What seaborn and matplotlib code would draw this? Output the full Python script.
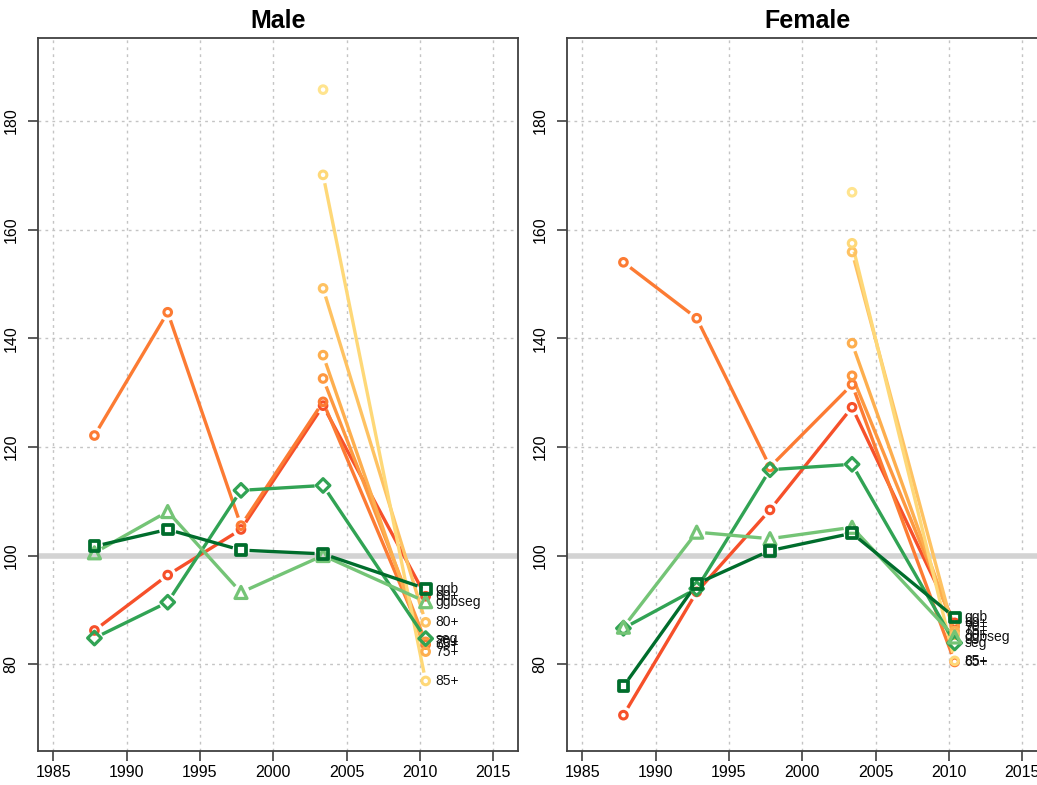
import numpy as np
import pandas as pd
import matplotlib
matplotlib.use("Agg")
import matplotlib.pyplot as plt
import seaborn as sns

nan = np.nan

# survey period mid-points
years = [1987.8, 1992.8, 1997.8, 2003.4, 2010.4]

# index values (100 = reference), male
male_60 = [86.2, 96.4, 104.8, 127.6, 92.5]
male_65 = [122.1, 144.8, 105.5, 128.3, 83.6]
male_70 = [nan, nan, nan, 132.6, 84.1]
male_75 = [nan, nan, nan, 136.9, 82.3]
male_80 = [nan, nan, nan, 149.2, 87.7]
male_85 = [nan, nan, nan, 170.1, 76.9]
male_90 = [nan, nan, nan, 185.8, nan]
male_seg = [84.8, 91.4, 112.0, 112.9, 84.7]
male_ggbseg = [100.5, 108.1, 93.2, 100.0, 91.5]
male_ggb = [101.7, 104.8, 101.0, 100.3, 93.9]

# index values, female
female_60 = [70.6, 93.3, 108.4, 127.3, 87.6]
female_65 = [154.0, 143.7, 116.3, 131.5, 80.4]
female_70 = [nan, nan, nan, 133.1, 86.9]
female_75 = [nan, nan, nan, 139.1, 86.1]
female_80 = [nan, nan, nan, 155.9, 85.4]
female_85 = [nan, nan, nan, 157.5, 80.6]
female_90 = [nan, nan, nan, 166.9, nan]
female_seg = [86.6, 93.9, 115.8, 116.8, 83.9]
female_ggbseg = [86.8, 104.3, 103.1, 105.2, 85.0]
female_ggb = [75.9, 94.8, 100.9, 104.1, 88.6]

series_names = ["60+", "65+", "70+", "75+", "80+", "85+", "90+", "seg", "ggbseg", "ggb"]
male_values = [male_60, male_65, male_70, male_75, male_80, male_85, male_90,
               male_seg, male_ggbseg, male_ggb]
female_values = [female_60, female_65, female_70, female_75, female_80, female_85,
                 female_90, female_seg, female_ggbseg, female_ggb]

colors = {
    "60+": "#F6502A", "65+": "#FC7B33", "70+": "#FD9840", "75+": "#FDAE4E",
    "80+": "#FEC262", "85+": "#FED878", "90+": "#FFE48E",
    "seg": "#31A354", "ggbseg": "#74C476", "ggb": "#006D2C",
}
# scatter marker, area (pt^2), edge width
marker_style = {
    "seg": ("D", 48, 2.3),
    "ggbseg": ("^", 75, 2.3),
    "ggb": ("s", 50, 2.7),
}
age_marker = ("o", 30, 2.2)
GAP = 8.5  # px left open around each point, as in a "both" line type

sns.set_style("white")
plt.rcParams["font.family"] = ["Liberation Sans", "DejaVu Sans"]

fig = plt.figure(figsize=(10.37, 7.85), dpi=100)
W, H = 1037, 785
top, bottom = 37.5, 751
ax_m = fig.add_axes([38 / W, 1 - bottom / H, 480 / W, (bottom - top) / H])
ax_f = fig.add_axes([567 / W, 1 - bottom / H, 480 / W, (bottom - top) / H])


def gapped_segments(ax, xs, ys):
    """Segments between consecutive points, trimmed near each point."""
    pts = ax.transData.transform(np.column_stack([xs, ys]))
    inv = ax.transData.inverted()
    segs = []
    for p0, p1 in zip(pts[:-1], pts[1:]):
        d = p1 - p0
        L = np.hypot(*d)
        if L <= 2 * GAP:
            continue
        u = d / L
        q = inv.transform(np.array([p0 + u * GAP, p1 - u * GAP]))
        segs.append(q)
    return segs


def draw_panel(ax, values, title):
    ax.set_xlim(1983.95, 2016.7)
    ax.set_ylim(64.0, 195.4)
    xt = [1985, 1990, 1995, 2000, 2005, 2010, 2015]
    yt = [80, 100, 120, 140, 160, 180]
    for x in xt:
        ax.axvline(x, color="#C4C4C4", lw=1.0, ls=(0, (2, 3)), zorder=0)
    for y in yt:
        ax.axhline(y, color="#C4C4C4", lw=1.0, ls=(0, (2, 3)), zorder=0)
    ax.axhline(100, color="#D3D3D3", lw=4, zorder=1)

    for name, vals in zip(series_names, values):
        df = pd.DataFrame({"year": years, "value": vals}).dropna()
        col = colors[name]
        for seg in gapped_segments(ax, df["year"].values, df["value"].values):
            ax.plot(seg[:, 0], seg[:, 1], color=col, lw=2.4,
                    solid_capstyle="butt", zorder=3)
        mk, area, ew = marker_style.get(name, age_marker)
        sns.scatterplot(data=df, x="year", y="value", ax=ax, marker=mk, s=area,
                        facecolor="none", edgecolor=col, linewidth=ew,
                        zorder=4, legend=False)
        last = vals[-1]
        if not np.isnan(last):
            ax.text(years[-1] + 0.65, last, name, fontsize=10, color="#111111",
                    ha="left", va="center", zorder=5)

    ax.set_xlim(1983.95, 2016.7)
    ax.set_ylim(64.0, 195.4)
    ax.set_xticks(xt)
    ax.set_yticks(yt)
    ax.set_xlabel("")
    ax.set_ylabel("")
    ax.tick_params(axis="both", direction="out", length=7, width=1.2,
                   color="#404040", labelsize=11.5, labelcolor="black")
    ax.tick_params(axis="x", pad=3, bottom=True)
    ax.tick_params(axis="y", pad=7, left=True, labelrotation=90)
    for lab in ax.get_yticklabels():
        lab.set_va("center")
    for sp in ax.spines.values():
        sp.set_visible(True)
        sp.set_color("#404040")
        sp.set_linewidth(1.3)
    ax.set_title(title, fontsize=18, fontweight="bold", pad=7, color="black")


draw_panel(ax_m, male_values, "Male")
draw_panel(ax_f, female_values, "Female")

fig.savefig("out.png", dpi=100, facecolor="white")
